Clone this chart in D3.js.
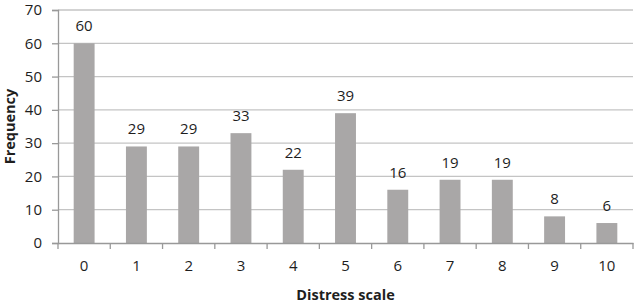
<!DOCTYPE html>
<html>
<head>
<meta charset="utf-8">
<script src="https://cdn.jsdelivr.net/npm/d3@7"></script>
<style>
  body { margin: 0; background: #fff; }
  text { font-family: "Open Sans", sans-serif; fill: #1e1e1e; }
</style>
</head>
<body>
<svg id="chart" width="640" height="304"></svg>
<script>
var categories = ["0","1","2","3","4","5","6","7","8","9","10"];
var frequency = [60,29,29,33,22,39,16,19,19,8,6];
var yTicks = [0,10,20,30,40,50,60,70];

var svg = d3.select("#chart");
var plotLeft = 58, plotRight = 633, plotTop = 10, plotBottom = 243;

var x = d3.scaleBand().domain(categories).range([plotLeft, plotRight]).paddingInner(0.6).paddingOuter(0.3);
var xb = d3.scaleBand().domain(categories).range([plotLeft, plotRight]);
var y = d3.scaleLinear().domain([0, 70]).range([plotBottom, plotTop]);

// gridlines
svg.append("g").selectAll("line").data(yTicks.slice(1)).enter()
  .append("line")
  .attr("x1", plotLeft).attr("x2", plotRight)
  .attr("y1", function(d) { return y(d); }).attr("y2", function(d) { return y(d); })
  .attr("stroke", "#c4c4c4").attr("stroke-width", 1.3);

// bars
svg.append("g").selectAll("rect").data(frequency).enter()
  .append("rect")
  .attr("x", function(d, i) { return x(categories[i]); })
  .attr("width", x.bandwidth())
  .attr("y", function(d) { return y(d); })
  .attr("height", function(d) { return y(0) - y(d); })
  .attr("fill", "#a9a7a7");

// value labels
svg.append("g").selectAll("text").data(frequency).enter()
  .append("text")
  .attr("x", function(d, i) { return x(categories[i]) + x.bandwidth() / 2; })
  .attr("y", function(d) { return y(d) - 12; })
  .attr("text-anchor", "middle")
  .style("font-size", "15px")
  .text(function(d) { return d; });

// y axis
var yAxis = svg.append("g").attr("transform", "translate(" + plotLeft + ",0)")
  .call(d3.axisLeft(y).tickValues(yTicks).tickSize(6).tickPadding(10));
yAxis.select(".domain").attr("stroke", "#999").attr("stroke-width", 1.3);
yAxis.selectAll(".tick line").attr("stroke", "#999").attr("stroke-width", 1.3);
yAxis.selectAll(".tick text").style("font-size", "15px").style("font-family", "Open Sans, sans-serif").attr("fill", "#1e1e1e");

// x axis
var xAxis = svg.append("g").attr("transform", "translate(0," + plotBottom + ")")
  .call(d3.axisBottom(xb).tickSize(0).tickPadding(17));
xAxis.select(".domain").attr("stroke", "#999").attr("stroke-width", 1.3);
xAxis.selectAll(".tick text").style("font-size", "15px").style("font-family", "Open Sans, sans-serif").attr("fill", "#1e1e1e");
// boundary tick marks
svg.append("g").selectAll("line").data(categories.concat(["end"])).enter()
  .append("line")
  .attr("x1", function(d, i) { return plotLeft + i * xb.step(); })
  .attr("x2", function(d, i) { return plotLeft + i * xb.step(); })
  .attr("y1", plotBottom).attr("y2", plotBottom + 6)
  .attr("stroke", "#999").attr("stroke-width", 1.3);

// axis titles
svg.append("text")
  .attr("x", (plotLeft + plotRight) / 2).attr("y", 300)
  .attr("text-anchor", "middle")
  .style("font-size", "14.5px").style("font-weight", "bold")
  .text("Distress scale");

svg.append("text")
  .attr("transform", "translate(15," + ((plotTop + plotBottom) / 2) + ") rotate(-90)")
  .attr("text-anchor", "middle")
  .style("font-size", "14.5px").style("font-weight", "bold")
  .text("Frequency");
</script>
</body>
</html>
